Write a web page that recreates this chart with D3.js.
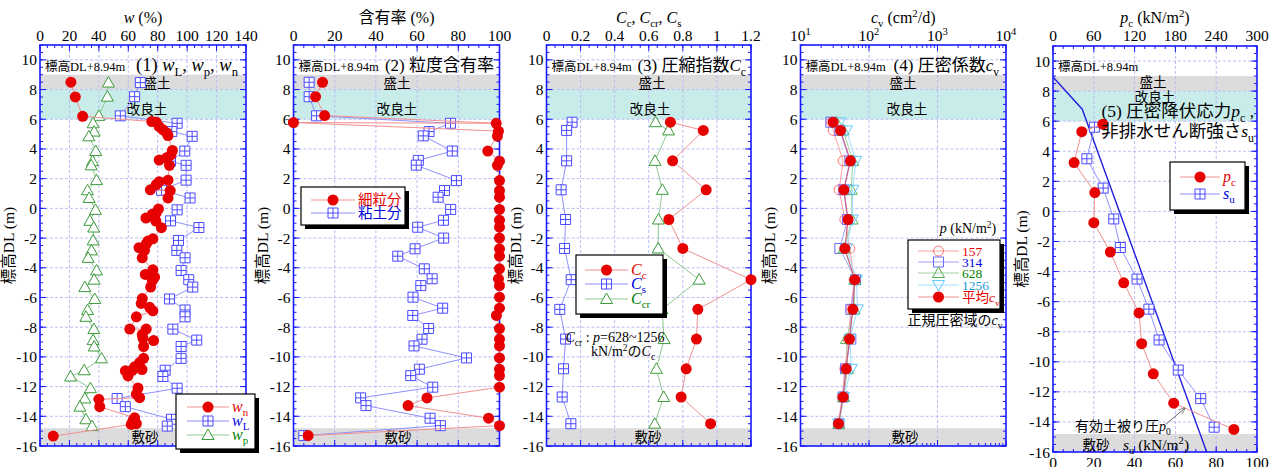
<!DOCTYPE html>
<html>
<head>
<meta charset="utf-8">
<script src="https://cdn.jsdelivr.net/npm/d3@7"></script>
<style>
  body { margin: 0; background: #fff; }
  svg text { font-family: "Liberation Serif", "Noto Sans CJK JP", serif; }
</style>
</head>
<body>
<svg id="chart" width="1277" height="467"></svg>
<script>
// ---- (1) water content ----
const wnElev = [8.5, 7.5, 6.2, 5.85, 5.8, 5.5, 5.3, 5.1, 4.9, 3.9, 3.6, 3.4, 3.25, 2.9, 1.9, 1.8, 1.6, 1.25, 1.2, 0.7,
  -0.05, -0.3, -0.4, -0.65, -0.85, -1.3, -2.05, -2.2, -2.4, -2.65, -2.83, -3.33, -4.14, -4.45, -4.63, -4.86, -5.3,
  -6.07, -6.4, -6.66, -6.9, -7.3, -8.13, -8.13, -8.5, -8.75, -8.9, -9.3, -10.1, -10.38, -10.67, -10.85, -10.9, -10.94,
  -11.28, -12.1, -12.5, -12.75, -12.86, -13.35, -14.1, -14.3, -14.5, -14.55, -15.33];
const wn = [21, 24, 29, 76, 79, 81, 83.5, 86, 87, 90, 89, 86, 81, 88, 87, 81, 79, 75, 88.5, 87,
  80.5, 79, 76.3, 72, 78.7, 82.5, 76.7, 73.4, 72.2, 67.3, 71, 69.5, 76.7, 71.6, 77.9, 76.3, 75.2,
  69.5, 68.8, 74.5, 76.7, 65.5, 61, 72.2, 69.5, 70, 77.2, 70.4, 70.4, 67.7, 64.3, 69.3, 62.8, 58,
  59.8, 66.6, 65.5, 67.7, 40, 40.6, 64.3, 63.2, 65.5, 62, 9];
const atElev = [8.47, 7.52, 6.23, 5.73, 5.17, 4.85, 3.86, 3.18, 2.9, 1.9, 1.22, 0.7, -0.1, -0.84, -1.29,
  -2.16, -2.83, -3.33, -4.18, -4.8, -5.3, -6.1, -6.84, -7.3, -8.13, -8.87, -9.3, -10.1, -10.9, -11.32,
  -12.11, -12.8, -13.35, -14.2, -14.66];
const wL = [68.2, 64.3, 54.6, 93.2, 89.6, 103.4, 98.4, 88.7, 99.3, 99.3, 82.6, 102, 93.2, 88.7, 108,
  94.1, 93, 98.6, 95.9, 101.1, 103.8, 88, 98.6, 98.6, 90.3, 106.5, 95.9, 95.9, 85.1, 83.5,
  93.2, 52.4, 58, 89.4, 86.5];
const wp = [46.5, 45.8, 40, 36.1, 36.8, 33.2, 37.9, 35.7, 34.8, 38.4, 32.3, 33.4, 37.7, 33.9, 36.5,
  36.1, 35, 32.7, 38.4, 36.8, 30.5, 37.2, 32.3, 31.2, 36.6, 36.1, 36.8, 41.8, 30, 20.8,
  34.3, 30.5, 27.1, 31.2, 35.4];

// ---- (2) grain size ----
const clayElev = [8.49, 7.52, 6.23, 5.73, 5.17, 4.88, 3.86, 3.23, 2.91, 1.87, 1.2, 0.75, -0.07, -0.8, -1.27,
  -2.0, -2.72, -3.22, -4.07, -4.74, -5.2, -5.98, -6.72, -7.21, -8.09, -8.81, -9.26, -10.07, -10.83, -11.26,
  -12.04, -12.76, -13.28, -14.13, -14.63, -15.3];
const clay = [7.6, 7.6, 11.2, 76.2, 65.8, 63, 77.1, 60.6, 59.6, 79.1, 73.3, 70.2, 76.3, 72.8, 60.3,
  72.9, 59, 50.6, 63.5, 67.3, 61.8, 58, 72.4, 57.9, 65.6, 62.4, 58.5, 84, 61.1, 56.9,
  67.6, 32.6, 35.2, 66.3, 71.3, 5];
const fineElev = [8.49, 7.52, 6.25, 5.73, 5.78, 5.2, 4.87, 3.86, 3.18, 2.9, 1.87, 1.2, 0.75, -0.07, -0.8, -1.27,
  -2.0, -2.72, -3.22, -4.07, -4.74, -5.2, -5.98, -6.72, -7.21, -8.09, -8.81, -9.26, -10.07, -10.83, -11.26,
  -12.04, -12.76, -13.28, -14.13, -14.63, -15.3];
const fine = [14.1, 10.7, 15.1, 98.4, 0, 99.5, 99, 94.3, 100, 99, 100, 100, 100, 100, 100, 100,
  100, 100, 100, 100, 99.5, 100, 100, 100, 98.5, 100, 100, 100, 100, 100, 100,
  100, 64.8, 55.6, 94.7, 100, 7.1];

// ---- (3) compression index ----
const cElev = [5.8, 5.25, 3.2, 1.25, -0.75, -2.7, -4.8, -6.8, -8.8, -10.8, -12.7, -14.5];
const cc = [0.727, 0.92, 0.74, 0.937, 0.718, 0.80, 1.2, 0.888, 0.88, 0.82, 0.79, 0.963];
const cs = [0.15, 0.118, 0.118, 0.086, 0.112, 0.106, 0.145, 0.078, 0.112, 0.10, 0.092, 0.143];
const ccr = [0.64, 0.716, 0.637, 0.68, 0.657, 0.655, 0.896, 0.678, 0.69, 0.645, 0.688, 0.635];

// ---- (4) coefficient of consolidation ----
const cv157 = [28.4, 30.0, 41.9, 36.6, 44.4, 52.5, 60.7, 54.3, 49.6, 44.4, 40.6, 35.5];
const cv314 = [27.7, 37.5, 52.5, 42.9, 48.5, 37.5, 63.5, 54.3, 54.3, 45.4, 42.0, 36.3];
const cv628 = [33.5, 42.0, 58.0, 55.0, 56.8, 43.4, 62.1, 60.7, 46.9, 48.5, 42.9, 36.3];
const cv1256 = [37.4, 46.9, 64.0, 58.0, 57.0, 46.9, 65.7, 67.9, 52.5, 55.5, 42.4, 36.3];
const cvAvg = [30.0, 38.4, 53.6, 42.9, 49.5, 44.4, 62.1, 58.1, 51.9, 46.4, 42.0, 35.9];

// ---- (5) yield stress & undrained strength ----
const pcElev = [5.8, 5.3, 3.25, 1.25, -0.75, -2.7, -4.75, -6.75, -8.8, -10.8, -12.75, -14.5];
const pc = [73.3, 42.3, 31, 61.5, 60, 84.3, 104, 126.5, 130.4, 147.5, 177.5, 266];
const suElev = [5.6, 3.5, 1.55, -0.5, -2.4, -4.5, -6.5, -8.55, -10.55, -12.45, -14.35];
const su = [20.3, 16.6, 24.6, 29.8, 33, 41.2, 47, 52, 61.4, 72.4, 79];
const p0Elev = [8.94, 6.8, -16];
const p0 = [0, 43, 226];

// ---- axis ticks ----
const elevTicks = d3.range(-16, 11, 2);
const elevMinor = d3.range(-16, 11.01, 0.5);

const svg = d3.select('#chart');
const FRAME = '#1a1aff', GRID = '#bcbcf4';
const GRAY = '#dcdcdc', CYAN = '#c8ece9';
const RED = '#e60000', REDLINE = '#f29090';
const BLU = '#4b4bff', BLULINE = '#9090ff';
const GRN = '#3c9a3c', GRNLINE = '#90c890';

// text with <i>, <sub>, <sup> markup
function label(g, x, y, str, size, o = {}) {
  const t = g.append('text').attr('x', x).attr('y', y)
    .attr('text-anchor', o.anchor || 'start')
    .attr('fill', o.fill || '#000')
    .attr('font-size', size);
  if (o.transform) t.attr('transform', o.transform);
  const re = /<(\/?)(i|sub|sup)>/g;
  const st = { i: false, sub: false, sup: false };
  let last = 0, off = 0, m;
  const push = s => {
    if (!s) return;
    const target = st.sub ? size * 0.28 : st.sup ? -size * 0.38 : 0;
    const ts = t.append('tspan').text(s)
      .attr('font-size', (st.sub || st.sup) ? size * 0.68 : size)
      .attr('font-style', st.i ? 'italic' : null);
    if (target !== off) { ts.attr('dy', target - off); off = target; }
  };
  while ((m = re.exec(str))) { push(str.slice(last, m.index)); st[m[2]] = !m[1]; last = re.lastIndex; }
  push(str.slice(last));
  return t;
}

function marker(g, kind, cx, cy, color) {
  if (kind === 'dot') {
    g.append('circle').attr('cx', cx).attr('cy', cy).attr('r', 5.5).attr('fill', color);
  } else if (kind === 'sq') {
    g.append('path')
      .attr('d', `M${cx - 5},${cy - 5}h10v10h-10Z`).attr('fill', '#fff').attr('stroke', color);
    g.append('path')
      .attr('d', `M${cx - 5},${cy}h10M${cx},${cy - 5}v10`).attr('fill', 'none').attr('stroke', color);
  } else if (kind === 'osq') {
    g.append('path').attr('d', `M${cx - 5},${cy - 5}h10v10h-10Z`).attr('fill', 'none').attr('stroke', color);
  } else if (kind === 'tri') {
    g.append('path').attr('d', `M${cx},${cy - 6}L${cx + 6},${cy + 4.5}L${cx - 6},${cy + 4.5}Z`)
      .attr('fill', '#fff').attr('stroke', color);
  } else if (kind === 'otri') {
    g.append('path').attr('d', `M${cx},${cy - 6}L${cx + 6},${cy + 4.5}L${cx - 6},${cy + 4.5}Z`)
      .attr('fill', 'none').attr('stroke', color);
  } else if (kind === 'dtri') {
    g.append('path').attr('d', `M${cx},${cy + 6}L${cx + 6},${cy - 4.5}L${cx - 6},${cy - 4.5}Z`)
      .attr('fill', 'none').attr('stroke', color);
  } else if (kind === 'circ') {
    g.append('circle').attr('cx', cx).attr('cy', cy).attr('r', 5).attr('fill', 'none').attr('stroke', color);
  }
}

function series(g, vals, elev, x, y, kind, color, lineColor) {
  const pts = vals.map((v, i) => [x(v), y(elev[i])]);
  g.append('path').attr('d', d3.line()(pts))
    .attr('fill', 'none').attr('stroke', lineColor).attr('stroke-width', 1);
  pts.forEach(p => marker(g, kind, p[0], p[1], color));
}

function legend(g, box, items) {
  const [x0, y0, x1, y1] = box;
  g.append('rect').attr('x', x0 + 4).attr('y', y0 + 4).attr('width', x1 - x0).attr('height', y1 - y0).attr('fill', '#000');
  g.append('rect').attr('x', x0).attr('y', y0).attr('width', x1 - x0).attr('height', y1 - y0)
    .attr('fill', '#fff').attr('stroke', '#000').attr('stroke-width', 1.2);
  items.forEach(it => {
    g.append('line').attr('x1', it.lx[0]).attr('x2', it.lx[1]).attr('y1', it.y).attr('y2', it.y)
      .attr('stroke', it.line).attr('stroke-width', 1);
    marker(g, it.kind, (it.lx[0] + it.lx[1]) / 2, it.y, it.color);
    label(g, it.lx[1] + 3, it.y + 5, it.text, it.size || 16, { fill: it.fill || it.color });
  });
}

function setupPanel(p) {
  const g = svg.append('g');
  const x = p.x, y = p.y;
  const [xl, xr] = x.range();
  const yb = y(-16), yt = y(11);
  const w = xr - xl;
  g.append('rect').attr('x', xl).attr('width', w).attr('y', y(9)).attr('height', y(8) - y(9)).attr('fill', GRAY);
  g.append('rect').attr('x', xl).attr('width', w).attr('y', y(8)).attr('height', y(6) - y(8)).attr('fill', CYAN);
  g.append('rect').attr('x', xl).attr('width', w).attr('y', y(-14.8)).attr('height', yb - y(-14.8)).attr('fill', GRAY);

  const grid = g.append('g').attr('stroke', GRID).attr('stroke-width', 1).attr('stroke-dasharray', '3,2');
  p.xMajor.slice(1, -1).forEach(v => {
    grid.append('line').attr('x1', x(v)).attr('x2', x(v)).attr('y1', yt).attr('y2', yb);
  });
  elevTicks.slice(1).forEach(v => {
    grid.append('line').attr('x1', xl).attr('x2', xr).attr('y1', y(v)).attr('y2', y(v));
  });

  const tk = g.append('g').attr('stroke', FRAME).attr('stroke-width', 1);
  const tick = (x1, y1, x2, y2) => tk.append('line').attr('x1', x1).attr('y1', y1).attr('x2', x2).attr('y2', y2);
  const xb = p.xb || x;
  p.xMinor.forEach(v => { tick(x(v), yt, x(v), yt + 3); });
  p.xMajor.forEach(v => { tick(x(v), yt, x(v), yt + 6); });
  (p.xBotMinor || p.xMinor).forEach(v => { tick(xb(v), yb, xb(v), yb - 3); });
  (p.xBotMajor || p.xMajor).forEach(v => { tick(xb(v), yb, xb(v), yb - 6); });
  elevMinor.forEach(v => { tick(xl, y(v), xl + 3, y(v)); tick(xr, y(v), xr - 3, y(v)); });
  elevTicks.forEach(v => { tick(xl, y(v), xl + 6, y(v)); tick(xr, y(v), xr - 6, y(v)); });

  g.append('rect').attr('x', xl).attr('y', yt).attr('width', w).attr('height', yb - yt)
    .attr('fill', 'none').attr('stroke', FRAME).attr('stroke-width', 1.6);

  elevTicks.forEach(v => label(g, xl - 3, y(v) + 5.5, String(v), 15.5, { anchor: 'end' }));
  p.xMajor.forEach(v => label(g, x(v), 40.5, p.fmt(v), 15.5, { anchor: 'middle' }));
  label(g, (xl + xr) / 2, 23, p.title, 16, { anchor: 'middle' });
  label(g, 0, 0, '標高DL (m)', 15.5, { anchor: 'middle', transform: `translate(${xl - 26},${(yt + yb) / 2}) rotate(-90)` });
  label(g, xl + 5, 71, '標高DL+8.94m', 12.5);
  return g;
}

const yMain = d3.scaleLinear().domain([-16, 11]).range([446, 45]);
const yLast = d3.scaleLinear().domain([-16, 11]).range([452, 46]);
const fmtNum = v => String(+v.toFixed(2));

// ---- panel 1 ----
const x1 = d3.scaleLinear().domain([0, 140]).range([40, 246]);
const g1 = setupPanel({ x: x1, y: yMain, xMajor: d3.range(0, 141, 20), xMinor: d3.range(0, 141, 5),
  fmt: fmtNum, title: '<i>w</i> (%)' });
label(g1, 157, 88, '盛土', 13.5, { anchor: 'middle' });
label(g1, 147, 114, '改良土', 13.5, { anchor: 'middle' });
label(g1, 145, 442, '敷砂', 13.5, { anchor: 'middle' });
label(g1, 238, 71, '(1) <i>w</i><sub>L</sub>, <i>w</i><sub>p</sub>, <i>w</i><sub>n</sub>', 18.5, { anchor: 'end' });
series(g1, wp, atElev, x1, yMain, 'tri', GRN, GRNLINE);
series(g1, wL, atElev, x1, yMain, 'sq', BLU, BLULINE);
series(g1, wn, wnElev, x1, yMain, 'dot', RED, REDLINE);
legend(g1, [176, 394, 255, 449], [
  { y: 407, lx: [187, 229], kind: 'dot', color: RED, line: REDLINE, text: '<i>w</i><sub>n</sub>' },
  { y: 421, lx: [187, 229], kind: 'sq', color: BLU, line: BLULINE, text: '<i>w</i><sub>L</sub>', fill: '#0000e0' },
  { y: 435, lx: [187, 229], kind: 'tri', color: GRN, line: GRNLINE, text: '<i>w</i><sub>p</sub>', fill: '#008000' }
]);

// ---- panel 2 ----
const x2 = d3.scaleLinear().domain([0, 100]).range([293.5, 499.5]);
const g2 = setupPanel({ x: x2, y: yMain, xMajor: d3.range(0, 101, 20), xMinor: d3.range(0, 101, 5),
  fmt: fmtNum, title: '含有率 (%)' });
label(g2, 397, 88, '盛土', 13.5, { anchor: 'middle' });
label(g2, 397, 114, '改良土', 13.5, { anchor: 'middle' });
label(g2, 398, 442, '敷砂', 13.5, { anchor: 'middle' });
label(g2, 494, 71, '(2) 粒度含有率', 17, { anchor: 'end' });
series(g2, clay, clayElev, x2, yMain, 'sq', BLU, BLULINE);
series(g2, fine, fineElev, x2, yMain, 'dot', RED, REDLINE);
legend(g2, [301, 187, 405, 225], [
  { y: 200, lx: [311, 355], kind: 'dot', color: RED, line: REDLINE, text: '細粒分', size: 14.5 },
  { y: 213, lx: [311, 355], kind: 'sq', color: BLU, line: BLULINE, text: '粘土分', size: 14.5, fill: '#0000e0' }
]);

// ---- panel 3 ----
const x3 = d3.scaleLinear().domain([0, 1.2]).range([546.5, 751]);
const g3 = setupPanel({ x: x3, y: yMain, xMajor: d3.range(0, 1.21, 0.2), xMinor: d3.range(0, 1.21, 0.05),
  fmt: fmtNum, title: '<i>C</i><sub>c</sub>, <i>C</i><sub>cr</sub>, <i>C</i><sub>s</sub>' });
label(g3, 652, 88, '盛土', 13.5, { anchor: 'middle' });
label(g3, 650, 114, '改良土', 13.5, { anchor: 'middle' });
label(g3, 648, 442, '敷砂', 13.5, { anchor: 'middle' });
label(g3, 746, 71, '(3) 圧縮指数<i>C</i><sub>c</sub>', 17, { anchor: 'end' });
series(g3, cs, cElev, x3, yMain, 'sq', BLU, BLULINE);
series(g3, ccr, cElev, x3, yMain, 'tri', GRN, GRNLINE);
series(g3, cc, cElev, x3, yMain, 'dot', RED, REDLINE);
legend(g3, [576, 255, 663, 314], [
  { y: 270, lx: [585, 628], kind: 'dot', color: RED, line: REDLINE, text: '<i>C</i><sub>c</sub>' },
  { y: 284, lx: [585, 628], kind: 'sq', color: BLU, line: BLULINE, text: '<i>C</i><sub>s</sub>', fill: '#0000e0' },
  { y: 299, lx: [585, 628], kind: 'tri', color: GRN, line: GRNLINE, text: '<i>C</i><sub>cr</sub>', fill: '#008000' }
]);
label(g3, 615, 342, '<i>C</i><sub>cr</sub> : <i>p</i>=628~1256', 14, { anchor: 'middle' });
label(g3, 623, 356, 'kN/m<sup>2</sup>の<i>C</i><sub>c</sub>', 14, { anchor: 'middle' });

// ---- panel 4 ----
const x4 = d3.scaleLog().domain([10, 10000]).range([800.5, 1006]);
const decades = [10, 100, 1000, 10000];
const g4 = setupPanel({ x: x4, y: yMain, xMajor: decades, xMinor: x4.ticks(),
  fmt: v => `10<sup>${Math.round(Math.log10(v))}</sup>`, title: '<i>c</i><sub>v</sub> (cm<sup>2</sup>/d)' });
label(g4, 903, 88, '盛土', 13.5, { anchor: 'middle' });
label(g4, 907, 114, '改良土', 13.5, { anchor: 'middle' });
label(g4, 905, 442, '敷砂', 13.5, { anchor: 'middle' });
label(g4, 999, 71, '(4) 圧密係数<i>c</i><sub>v</sub>', 17, { anchor: 'end' });
series(g4, cv157, cElev, x4, yMain, 'circ', '#ff7070', '#ffa0a0');
series(g4, cv314, cElev, x4, yMain, 'osq', '#6a6aff', '#a0a0ff');
series(g4, cv628, cElev, x4, yMain, 'otri', '#50b050', '#a0d0a0');
series(g4, cv1256, cElev, x4, yMain, 'dtri', '#60c8ff', '#a0e0ff');
series(g4, cvAvg, cElev, x4, yMain, 'dot', RED, '#d05070');
label(g4, 968, 233, '<i>p</i> (kN/m<sup>2</sup>)', 14, { anchor: 'middle' });
legend(g4, [908, 240, 1000, 309], [
  { y: 251, lx: [918, 959], kind: 'circ', color: '#ff7070', line: '#ffa0a0', text: '157', size: 13.5, fill: RED },
  { y: 262, lx: [918, 959], kind: 'osq', color: '#6a6aff', line: '#a0a0ff', text: '314', size: 13.5, fill: '#0000e0' },
  { y: 273, lx: [918, 959], kind: 'otri', color: '#50b050', line: '#a0d0a0', text: '628', size: 13.5, fill: '#008000' },
  { y: 285, lx: [918, 959], kind: 'dtri', color: '#60c8ff', line: '#a0e0ff', text: '1256', size: 13.5, fill: '#1a9ae0' },
  { y: 297, lx: [918, 959], kind: 'dot', color: RED, line: REDLINE, text: '平均<i>c</i><sub>v</sub>', size: 13.5, fill: RED }
]);
label(g4, 955, 325, '正規圧密域の<i>c</i><sub>v</sub>', 14, { anchor: 'middle' });

// ---- panel 5 ----
const x5 = d3.scaleLinear().domain([0, 300]).range([1053, 1257]);
const x5b = d3.scaleLinear().domain([0, 100]).range([1053, 1257]);
const g5 = setupPanel({ x: x5, xb: x5b, y: yLast, xMajor: d3.range(0, 301, 60), xMinor: d3.range(0, 301, 15),
  xBotMajor: d3.range(0, 101, 20), xBotMinor: d3.range(0, 101, 5),
  fmt: fmtNum, title: '<i>p</i><sub>c</sub> (kN/m<sup>2</sup>)' });
d3.range(0, 101, 20).forEach(v => label(g5, x5b(v), 468, String(v), 15.5, { anchor: 'middle' }));
label(g5, 1153, 87, '盛土', 13.5, { anchor: 'middle' });
label(g5, 1155, 102, '改良土', 13.5, { anchor: 'middle' });
g5.append('path').attr('d', d3.line()(p0.map((v, i) => [x5(v), yLast(p0Elev[i])])))
  .attr('fill', 'none').attr('stroke', '#2020e0').attr('stroke-width', 1.4);
series(g5, su, suElev, x5b, yLast, 'sq', BLU, BLULINE);
series(g5, pc, pcElev, x5, yLast, 'dot', RED, REDLINE);
label(g5, 1254, 117, '(5) 圧密降伏応力<i>p</i><sub>c</sub> ,', 17.5, { anchor: 'end' });
label(g5, 1254, 137, '非排水せん断強さ<i>s</i><sub>u</sub>', 17.5, { anchor: 'end' });
legend(g5, [1170, 162, 1245, 210], [
  { y: 177, lx: [1180, 1220], kind: 'dot', color: RED, line: REDLINE, text: '<i>p</i><sub>c</sub>' },
  { y: 194, lx: [1180, 1220], kind: 'sq', color: BLU, line: BLULINE, text: '<i>s</i><sub>u</sub>', fill: '#0000e0' }
]);
label(g5, 1123, 431, '有効土被り圧<i>p</i><sub>0</sub>', 14, { anchor: 'middle' });
svg.append('defs').append('marker').attr('id', 'ah').attr('viewBox', '0 0 10 10')
  .attr('refX', 9).attr('refY', 5).attr('markerWidth', 7).attr('markerHeight', 7).attr('orient', 'auto')
  .append('path').attr('d', 'M0,1L10,5L0,9').attr('fill', 'none').attr('stroke', '#666');
g5.append('line').attr('x1', 1166).attr('y1', 424).attr('x2', 1185).attr('y2', 408)
  .attr('stroke', '#666').attr('stroke-width', 1).attr('marker-end', 'url(#ah)');
label(g5, 1096, 450, '敷砂', 13.5, { anchor: 'middle' });
label(g5, 1156, 450, '<i>s</i><sub>u</sub> (kN/m<sup>2</sup>)', 15.5, { anchor: 'middle' });
</script>
</body>
</html>
